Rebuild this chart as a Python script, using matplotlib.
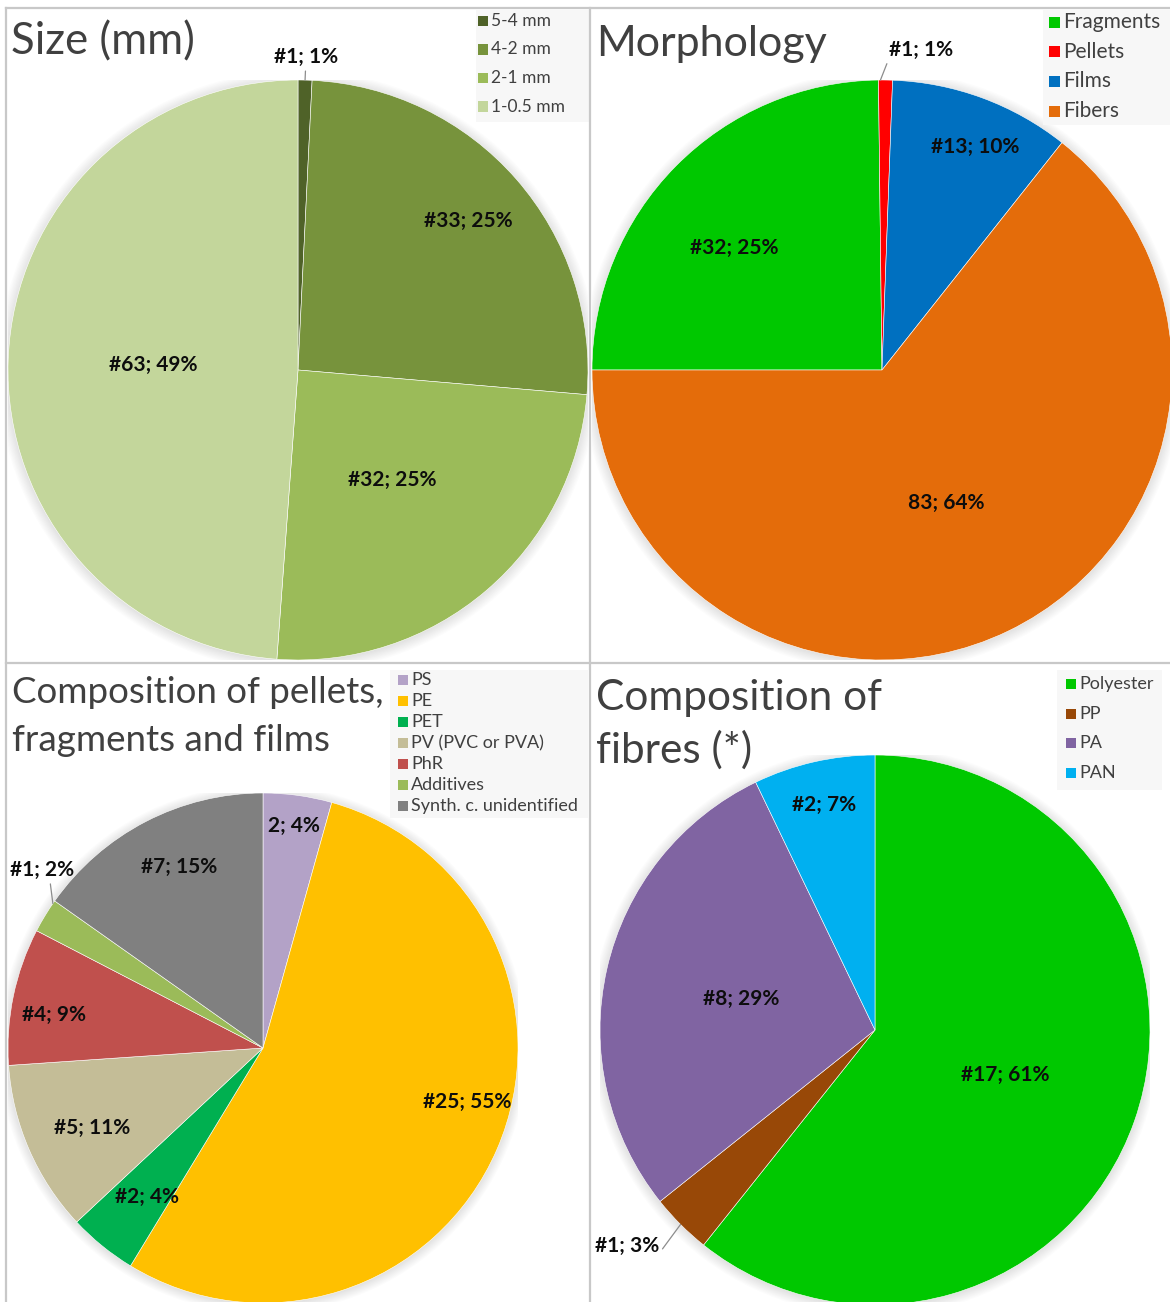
import matplotlib
matplotlib.use('Agg')
import matplotlib.pyplot as plt
from matplotlib.patches import Rectangle
from matplotlib.lines import Line2D
import numpy as np

W, H = 1170, 1302

# ---------------- data ----------------
size_cats = ['5-4 mm', '4-2 mm', '2-1 mm', '1-0.5 mm']
size_counts = [1, 33, 32, 63]
size_labels = ['#1; 1%', '#33; 25%', '#32; 25%', '#63; 49%']

morph_cats = ['Fragments', 'Pellets', 'Films', 'Fibers']
morph_counts = [32, 1, 13, 83]
morph_labels = ['#32; 25%', '#1; 1%', '#13; 10%', '83; 64%']

comp_cats = ['PS', 'PE', 'PET', 'PV (PVC or PVA)', 'PhR', 'Additives',
             'Synth. c. unidentified']
comp_counts = [2, 25, 2, 5, 4, 1, 7]
comp_labels = ['2; 4%', '#25; 55%', '#2; 4%', '#5; 11%', '#4; 9%', '#1; 2%', '#7; 15%']

fib_cats = ['Polyester', 'PP', 'PA', 'PAN']
fib_counts = [17, 1, 8, 2]
fib_labels = ['#17; 61%', '#1; 3%', '#8; 29%', '#2; 7%']

# ---------------- styles ----------------
size_colors = ['#4f6228', '#77933c', '#9bbb59', '#c3d69b']
morph_colors = ['#00c800', '#ff0000', '#0070c0', '#e46c0a']
comp_colors = ['#b3a2c7', '#ffc000', '#00b050', '#c4bd97', '#c0504d', '#9bbb59', '#808080']
fib_colors = ['#00c800', '#984807', '#8064a2', '#00b0f0']

FONT = 'Lato'
TITLE_C = '#404040'
plt.rcParams['font.family'] = [FONT, 'DejaVu Sans']

fig = plt.figure(figsize=(W / 100, H / 100), dpi=100)
fig.patch.set_facecolor('white')


def fx(x):
    return x / W


def fy(y):
    return 1 - y / H


def pie_panel(cx, cy, r, counts, colors, labels, startangle, layout, leaders, fs=15):
    ax = fig.add_axes([(cx - r) / W, 1 - (cy + r) / H, 2 * r / W, 2 * r / H])
    # soft shadow
    for k in range(10):
        circ = plt.Circle((0.0, -0.004), 1.0 + 0.004 * k, color='black',
                          alpha=0.012, lw=0, zorder=0)
        ax.add_patch(circ)
    wedges, _ = ax.pie(counts, colors=colors, startangle=startangle,
                       counterclock=False, radius=1,
                       wedgeprops=dict(linewidth=0.4, edgecolor='white'))
    for w in wedges:
        w.set_zorder(2)
    ax.set_xlim(-1, 1)
    ax.set_ylim(-1, 1)
    ax.set_aspect('auto')
    ax.axis('off')
    for w, lab, (dang, rad), lead in zip(wedges, labels, layout, leaders):
        mid = (w.theta1 + w.theta2) / 2
        a = np.deg2rad(mid + dang)
        tx, ty = rad * np.cos(a), rad * np.sin(a)
        if lead is None:
            ax.text(tx, ty, lab, ha='center', va='center', fontsize=fs,
                    fontweight='bold', color='#0d0d0d', zorder=5)
        else:
            dlead, relpos = lead
            b = np.deg2rad(mid + dlead)
            ax.annotate(lab, xy=(np.cos(b), np.sin(b)), xytext=(tx, ty),
                        ha='center', va='center', fontsize=fs,
                        fontweight='bold', color='#0d0d0d', zorder=5,
                        annotation_clip=False,
                        arrowprops=dict(arrowstyle='-', color='#8c8c8c', lw=0.9,
                                        relpos=relpos, shrinkA=1, shrinkB=0))
    return ax


def legend(cats, colors, box, x_sq, y_rows, sq, fs):
    bx0, by0, bx1, by1 = box
    fig.patches.append(Rectangle((fx(bx0), fy(by1)), (bx1 - bx0) / W, (by1 - by0) / H,
                                 transform=fig.transFigure, facecolor='#f7f7f7',
                                 edgecolor='none', zorder=3))
    for i, (c, col) in enumerate(zip(cats, colors)):
        y = y_rows[0] + i * y_rows[1]
        fig.patches.append(Rectangle((fx(x_sq), fy(y + sq / 2)), sq / W, sq / H,
                                     transform=fig.transFigure, facecolor=col,
                                     edgecolor='none', zorder=4))
        fig.text(fx(x_sq + sq + 3), fy(y), c, ha='left', va='center',
                 fontsize=fs, color=TITLE_C, zorder=5)


# ---------------- panel 1: Size ----------------
pie_panel(298, 370, 290, size_counts, size_colors, size_labels, 90,
          [(0, 1.08), (0, 0.78), (0, 0.5), (0, 0.5)],
          [(0, (0.5, 0.0)), None, None, None])
fig.text(fx(11), fy(54), 'Size (mm)', fontsize=31.5, color=TITLE_C, va='baseline')
legend(size_cats, size_colors, (476, 10, 590, 122), 478, (21, 28.5), 10, 12.5)

# ---------------- panel 2: Morphology ----------------
pie_panel(882, 370, 290, morph_counts, morph_colors, morph_labels, 180,
          [(5, 0.66), (-6.3, 1.113), (-2.5, 0.834), (0, 0.51)],
          [None, (1, (0.0, 0.1)), None, None])
fig.text(fx(596), fy(56), 'Morphology', fontsize=31, color=TITLE_C, va='baseline')
legend(morph_cats, morph_colors, (1043, 10, 1170, 125), 1049, (22, 29.7), 11, 15)

# ---------------- panel 3: Composition of pellets ----------------
pie_panel(263, 1048, 255, comp_counts, comp_colors, comp_labels, 90,
          [(0, 0.88), (8.7, 0.83), (1.2, 0.74), (1.7, 0.74), (2.8, 0.83),
           (-7.6, 1.113), (-2.6, 0.78)],
          [None, None, None, None, None, (-3.2, (0.62, 0.0)), None])
fig.text(fx(12), fy(703), 'Composition of pellets,', fontsize=26.5, color=TITLE_C, va='baseline')
fig.text(fx(12), fy(751), 'fragments and films', fontsize=26.5, color=TITLE_C, va='baseline')
legend(comp_cats, comp_colors, (390, 670, 588, 818), 398, (680, 21.0), 10, 13)

# ---------------- panel 4: Composition of fibres ----------------
pie_panel(875, 1030, 275, fib_counts, fib_colors, fib_labels, 90,
          [(0, 0.5), (-4, 1.196), (0, 0.5), (0, 0.84)],
          [None, (0, (1.0, 0.1)), None, None])
fig.text(fx(596), fy(710), 'Composition of', fontsize=30.5, color=TITLE_C, va='baseline')
fig.text(fx(596), fy(763), 'fibres (*)', fontsize=30.5, color=TITLE_C, va='baseline')
legend(fib_cats, fib_colors, (1057, 670, 1162, 790), 1066, (684, 29.7), 10, 13)

# ---------------- panel borders ----------------
bc = '#c8c8c8'
for (x0, y0, x1, y1) in [(6, 8, W, 8), (6, 663, W, 663), (6, 8, 6, H), (590, 8, 590, H)]:
    fig.add_artist(Line2D([fx(x0), fx(x1)], [fy(y0), fy(y1)], transform=fig.transFigure,
                          color=bc, lw=1.6, zorder=6))

fig.savefig('out.png', dpi=100, facecolor='white')
